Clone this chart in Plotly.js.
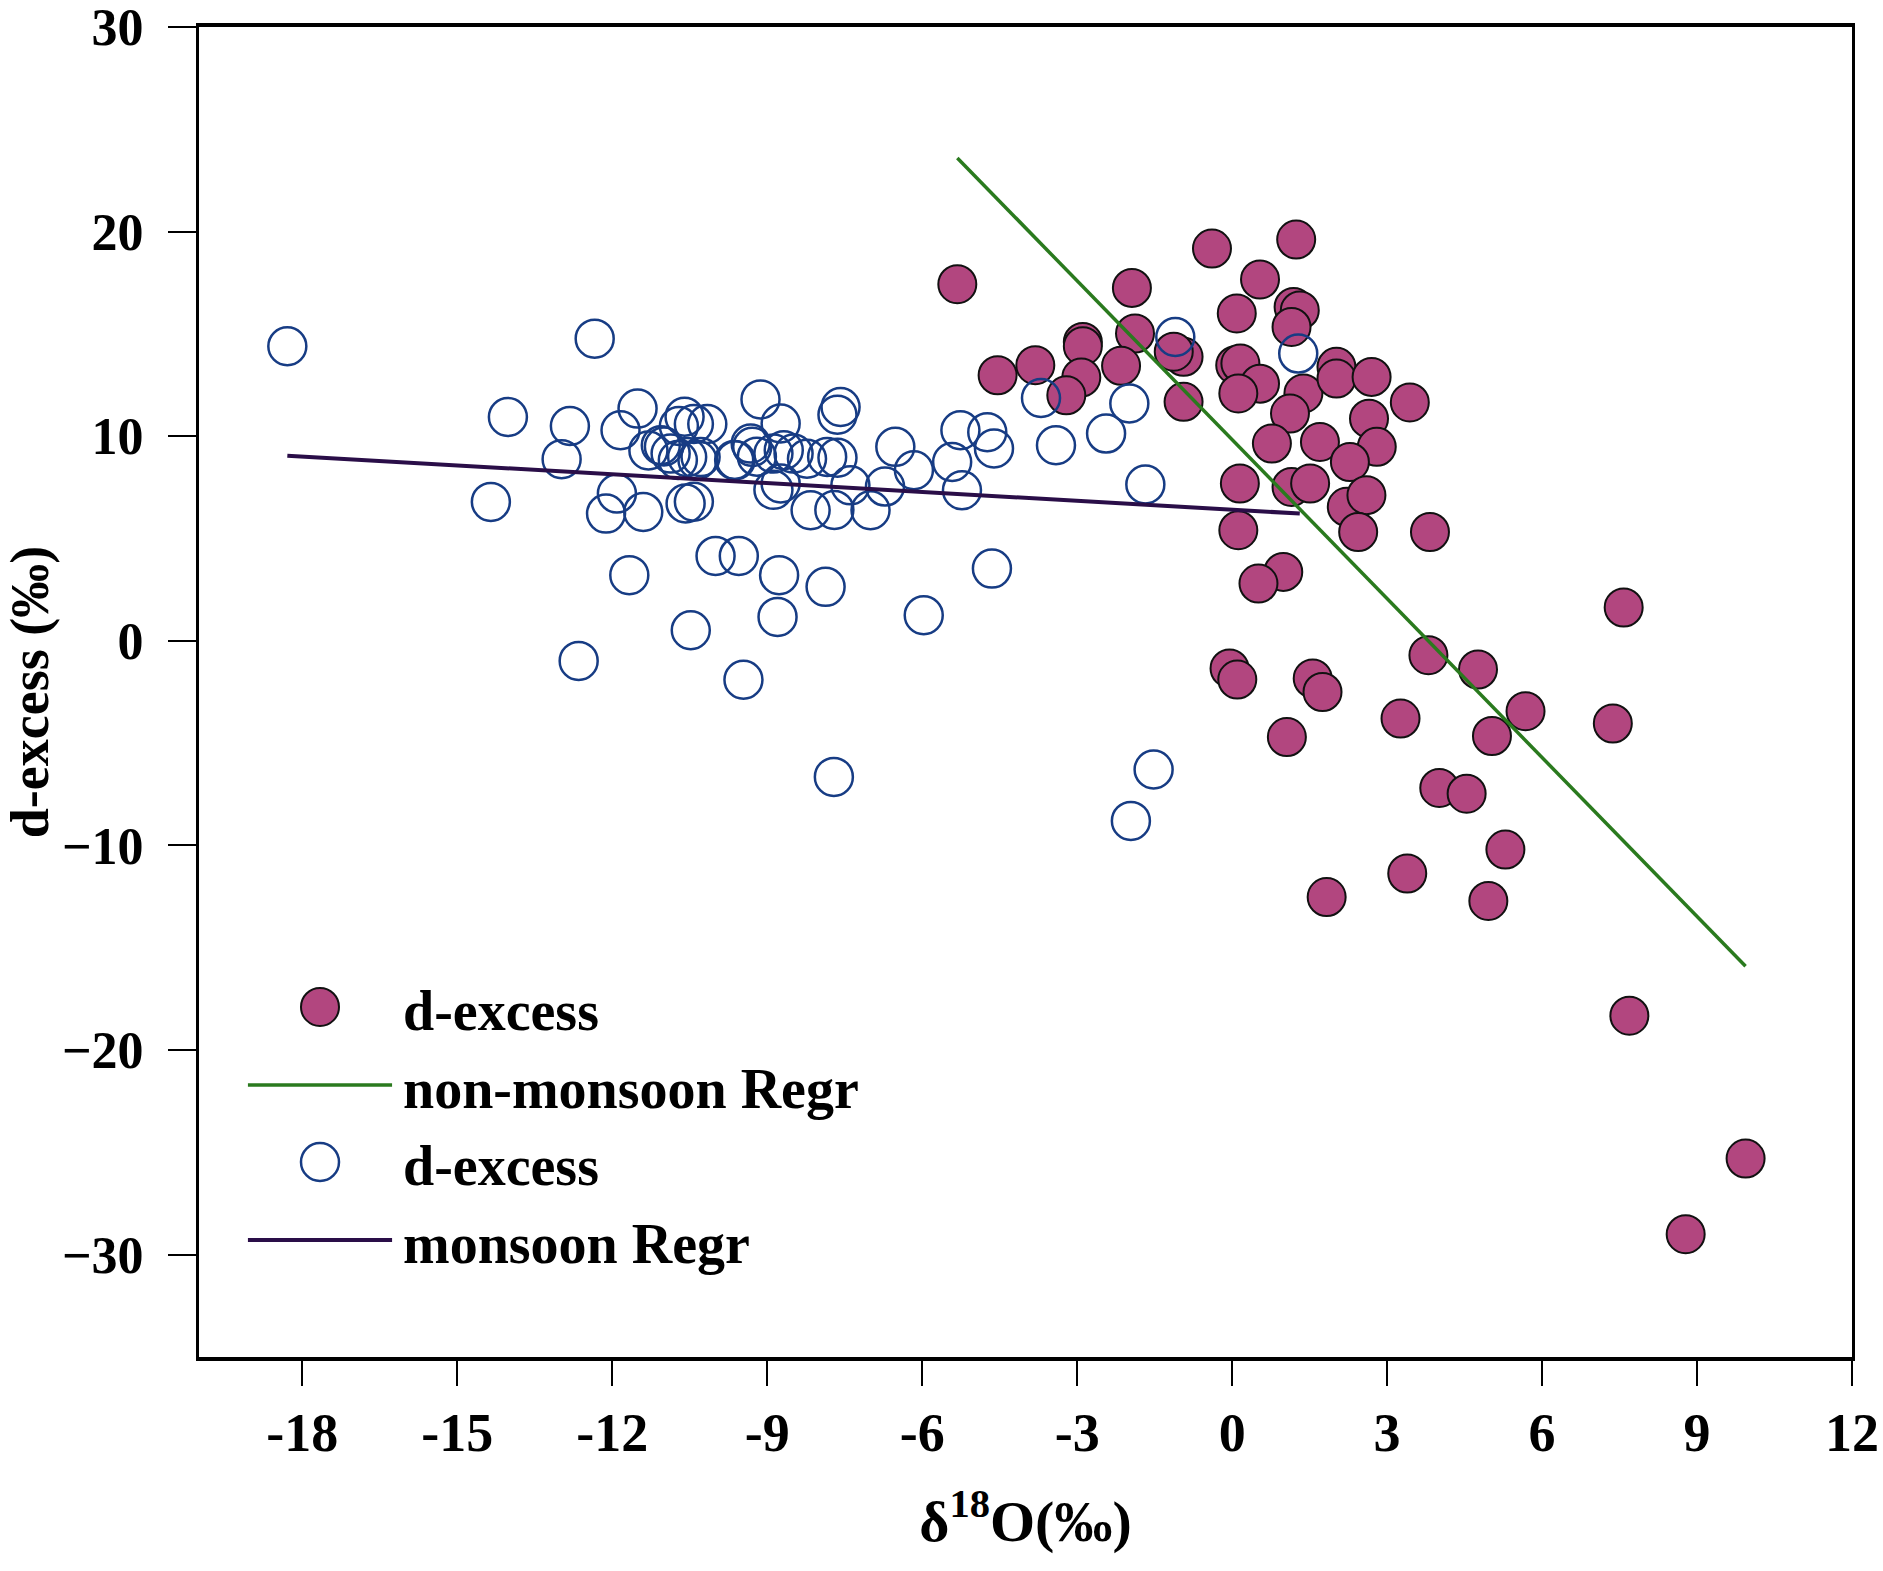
<!DOCTYPE html>
<html>
<head>
<meta charset="utf-8">
<script src="https://cdn.plot.ly/plotly-3.0.1.min.js"></script>
<style>
    html, body { margin: 0; padding: 0; background: #ffffff; }
    #chart { width: 1883px; height: 1571px; }
</style>
</head>
<body>
<div id="chart"></div>
<script>
// non-monsoon samples (filled markers)
const nonMonsoonO18 = [
    -5.32, -0.39, 1.24, -1.94, 0.54, 0.09, 1.19, 1.31, 1.15, -2.89,
    -2.89, -1.88, -0.94, -1.13, -3.81, -4.54, -2.92, -3.21, -2.15, -0.94,
    0.06, 0.16, 0.54, 0.12, 1.38, 2.02, 2.02, 2.70, 3.44, 1.12,
    2.65, 0.77, 1.70, 2.80, 2.28, 0.15, 1.15, 1.51, 2.22, 2.60,
    2.44, 0.12, 3.83, 0.99, 0.51, 7.58, -0.05, 0.10, 1.56, 1.75,
    3.80, 4.76, 1.06, 3.26, 5.68, 5.03, 7.37, 4.01, 4.54, 5.29,
    3.39, 1.83, 4.96, 7.69, 9.94, 8.78,
];
const nonMonsoonDex = [
    17.43, 19.17, 19.61, 17.25, 17.66, 16.00, 16.32, 16.15, 15.34, 14.61,
    14.40, 15.02, 13.88, 14.13, 13.47, 12.98, 12.87, 12.00, 13.44, 11.68,
    13.47, 13.55, 12.57, 12.09, 12.09, 13.39, 12.82, 12.90, 11.65, 11.11,
    10.86, 9.64, 9.72, 9.48, 8.74, 7.69, 7.52, 7.69, 6.55, 7.12,
    5.32, 5.41, 5.32, 3.37, 2.80, 1.63, -1.35, -1.89, -1.84, -2.50,
    -0.70, -1.40, -4.70, -3.80, -3.44, -4.65, -4.04, -7.19, -7.47, -10.20,
    -11.37, -12.52, -12.71, -18.32, -25.30, -29.00,
];

// monsoon samples (open markers)
const monsoonO18 = [
    -18.29, -12.34, -14.02, -12.82, -12.98, -14.35, -11.84, -11.51, -11.91, -12.12,
    -11.40, -11.30, -11.00, -11.67, -12.65, -10.48, -9.46, -10.00, -9.55, -10.60,
    -10.42, -10.16, -10.71, -10.87, -10.55, -10.29, -10.58, -10.42, -9.13, -8.74,
    -7.58, -7.64, -6.52, -9.61, -9.29, -9.20, -8.88, -8.68, -8.49, -8.23,
    -7.84, -7.64, -8.74, -8.88, -8.16, -7.70, -7.00, -7.39, -6.72, -6.16,
    -5.26, -4.74, -4.61, -5.42, -5.23, -8.77, -7.87, -8.80, -5.97, -4.65,
    -7.71, -3.70, -1.99, -2.44, -3.41, -1.68, -1.10, 1.28, -1.52, -1.96,
    -11.06, -10.73, -10.35, -9.64, -9.32,
];
const monsoonDex = [
    14.40, 14.77, 10.94, 10.50, 8.88, 6.79, 10.29, 11.35, 7.20, 6.22,
    6.30, 9.30, 9.50, 3.21, -0.98, 0.52, -1.90, 4.15, 4.15, 10.95,
    10.60, 10.60, 10.50, 9.15, 8.98, 8.98, 6.71, 6.80, 11.80, 10.62,
    11.43, 11.05, 9.48, 8.83, 9.48, 9.00, 9.15, 9.32, 9.15, 8.90,
    8.99, 8.95, 7.69, 7.38, 6.38, 6.40, 6.38, 7.60, 7.54, 8.34,
    10.29, 10.20, 9.40, 8.74, 7.36, 3.21, 2.64, 1.17, 1.25, 3.53,
    -6.65, 11.87, 11.60, 10.13, 9.56, 7.64, 14.85, 14.04, -6.29, -8.80,
    9.56, 8.84, 8.84, 8.84, 9.64,
];

// regression line end points
const nonMonsoonRegrX = [-5.32, 9.94];
const nonMonsoonRegrY = [23.6, -15.9];
const monsoonRegrX = [-18.29, 1.31];
const monsoonRegrY = [9.05, 6.22];

const xTickVals = [-18, -15, -12, -9, -6, -3, 0, 3, 6, 9, 12];
const xTickText = ["-18", "-15", "-12", "-9", "-6", "-3", "0", "3", "6", "9", "12"];
const yTickVals = [30, 20, 10, 0, -10, -20, -30];
const yTickText = ["30", "20", "10", "0", "\u221210", "\u221220", "\u221230"];

const legendLabels = ["d-excess", "non-monsoon Regr", "d-excess", "monsoon Regr"];

const PINK = "#b2467f";
const NAVY = "#173c84";
const GREEN = "#2a7a1e";
const DARK_LINE = "#2a0e48";
const FONT = "\"Liberation Serif\", \"Times New Roman\", serif";


function buildTraces() {
    return [
        {
            type: "scatter",
            mode: "markers",
            name: legendLabels[0],
            x: nonMonsoonO18,
            y: nonMonsoonDex,
            marker: {
                symbol: "circle",
                size: 38,
                color: PINK,
                line: { color: "#111111", width: 2 },
            },
        },
        {
            type: "scatter",
            mode: "lines",
            name: legendLabels[1],
            x: nonMonsoonRegrX,
            y: nonMonsoonRegrY,
            line: { color: GREEN, width: 3.5 },
        },
        {
            type: "scatter",
            mode: "markers",
            name: legendLabels[2],
            x: monsoonO18,
            y: monsoonDex,
            marker: {
                symbol: "circle",
                size: 38,
                color: "rgba(0, 0, 0, 0)",
                line: { color: NAVY, width: 2.5 },
            },
        },
        {
            type: "scatter",
            mode: "lines",
            name: legendLabels[3],
            x: monsoonRegrX,
            y: monsoonRegrY,
            line: { color: DARK_LINE, width: 4 },
        },
    ];
}


// hand-drawn legend, so the symbols keep the size they have in the plot
function buildLegend() {
    const rowY = [0.2632, 0.2045, 0.1466, 0.088];
    const symbolX = 0.0732;
    const lineX = [0.0296, 0.1168];
    const textX = 0.1225;

    const shapes = [
        {
            type: "circle", xref: "paper", yref: "paper",
            xsizemode: "pixel", ysizemode: "pixel",
            xanchor: symbolX, yanchor: rowY[0],
            x0: -19, x1: 19, y0: -19, y1: 19,
            fillcolor: PINK, line: { color: "#111111", width: 2 },
        },
        {
            type: "line", xref: "paper", yref: "paper",
            x0: lineX[0], x1: lineX[1], y0: rowY[1], y1: rowY[1],
            line: { color: GREEN, width: 3.5 },
        },
        {
            type: "circle", xref: "paper", yref: "paper",
            xsizemode: "pixel", ysizemode: "pixel",
            xanchor: symbolX, yanchor: rowY[2],
            x0: -19, x1: 19, y0: -19, y1: 19,
            fillcolor: "rgba(0, 0, 0, 0)", line: { color: NAVY, width: 2.5 },
        },
        {
            type: "line", xref: "paper", yref: "paper",
            x0: lineX[0], x1: lineX[1], y0: rowY[3], y1: rowY[3],
            line: { color: DARK_LINE, width: 4 },
        },
    ];

    const annotations = legendLabels.map((label, index) => ({
        xref: "paper",
        yref: "paper",
        x: textX,
        y: rowY[index] - 0.003,
        xanchor: "left",
        yanchor: "middle",
        showarrow: false,
        text: `<b>${label}</b>`,
        font: { family: FONT, size: 56, color: "#000000" },
    }));

    return { shapes, annotations };
}


const legend = buildLegend();

Plotly.newPlot(
    "chart",
    buildTraces(),
    {
        width: 1883,
        height: 1571,
        margin: { l: 199, r: 31, t: 27, b: 214 },
        paper_bgcolor: "#ffffff",
        plot_bgcolor: "#ffffff",
        showlegend: false,
        font: { family: FONT, color: "#000000", size: 50 },
        xaxis: {
            range: [-20, 12],
            tickvals: xTickVals,
            ticktext: xTickText,
            ticks: "outside",
            ticklen: 25,
            tickwidth: 2,
            tickcolor: "#000000",
            ticklabelstandoff: 0,
            ticklabeloverflow: "allow",
            tickfont: { family: FONT, size: 54, weight: "bold" },
            showline: true,
            linecolor: "#000000",
            linewidth: 4,
            mirror: true,
            showgrid: false,
            zeroline: false,
            title: {
                text: "<b>\u03b4<sup>18</sup>O(\u2030)</b>",
                font: { family: FONT, size: 58 },
                standoff: 40,
            },
        },
        yaxis: {
            range: [-35, 30],
            tickvals: yTickVals,
            ticktext: yTickText,
            ticks: "outside",
            ticklen: 28,
            tickwidth: 2,
            tickcolor: "#000000",
            ticklabelstandoff: 14,
            ticklabeloverflow: "allow",
            tickfont: { family: FONT, size: 52, weight: "bold" },
            showline: true,
            linecolor: "#000000",
            linewidth: 3,
            mirror: true,
            showgrid: false,
            zeroline: false,
            title: {
                text: "<b>d-excess (\u2030)</b>",
                font: { family: FONT, size: 54 },
                standoff: 10,
            },
        },
        shapes: legend.shapes,
        annotations: legend.annotations,
    },
    { displayModeBar: false, staticPlot: true },
);
</script>
</body>
</html>
